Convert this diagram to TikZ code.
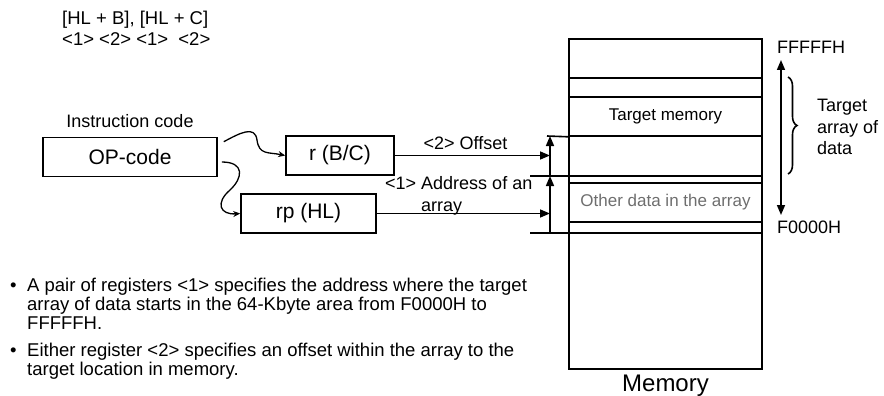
\documentclass[tikz,border=0pt]{standalone}
\usepackage{fontspec}
\setmainfont{Liberation Sans}
\usetikzlibrary{arrows.meta,calc,positioning,decorations.pathreplacing}
\definecolor{MemGray}{HTML}{6E6E6E}
\tikzset{
  mmbox/.style={draw, line width=1.6pt, minimum height=39pt, inner sep=0pt, font=\fontsize{21}{25}\selectfont},
  mmrow/.style={draw, line width=1.6pt, minimum width=193pt, minimum height=39pt, inner sep=0pt, font=\fontsize{17}{20}\selectfont},
  mmline/.style={line width=1.6pt},
  mmarrow/.style={-{Triangle[length=10pt,width=8pt]}, line width=1.6pt},
  mmcurve/.style={-{Stealth[length=7pt,width=6pt]}, line width=1.3pt},
  mmlabel/.style={inner sep=0pt, align=left, font=\fontsize{18}{21.5}\selectfont}
}
\begin{document}
\begin{tikzpicture}[x=1pt,y=-1pt]
  \useasboundingbox (0,0) rectangle (884,396);
  % addressing form
  \node[mmlabel, anchor=north west, font=\fontsize{18.5}{21}\selectfont] (form) at (62,11) {[HL + B], [HL + C]\\<1> <2> <1>\ \ <2>};
  % instruction and registers
  \node[mmbox, minimum width=174pt] (op) at (130,157) {OP-code};
  \node[mmlabel, above=8.5pt of op] (instr) {Instruction code};
  \node[mmbox, minimum width=108pt] (rbc) at (340,155.5) {r (B/C)};
  \node[mmbox, minimum width=135pt] (rp) at (308.5,213.5) {rp (HL)};
  \draw[mmcurve] (op.north east) ++(6,5) coordinate (c1)
    .. controls (240,133) and (255,125) .. (257,140)
    .. controls (259,155) and (268,152) .. (rbc.west);
  \draw[mmcurve] (op.east) ++(4,5) coordinate (c2)
    .. controls (245,162) and (243,178) .. (230,190)
    .. controls (215,203) and (220,215) .. (rp.west);
  % memory
  \node[draw, line width=1.6pt, minimum width=193pt, minimum height=330pt, inner sep=0pt] (mem) at (665.5,204) {};
  \node[mmlabel, below=5pt of mem, font=\fontsize{24}{28}\selectfont] (memname) {Memory};
  \node[mmrow] (tgt) at (665.5,116.5) {Target memory};
  \node[mmrow, text=MemGray] (oth) at (665.5,202.5) {Other data in the array};
  \draw[mmline] (569,78) -- (762,78);
  \draw[mmline] (530,176) -- (762,176);
  \draw[mmline] (530,233) -- (762,233);
  \draw[mmline] (547,136) -- (tgt.south west);
  % address and offset
  \coordinate (abase) at (550,233);
  \coordinate (amid) at (550,176);
  \coordinate (atop) at (550,136);
  \draw[mmarrow] (abase) -- (amid);
  \draw[mmarrow] (amid) -- (atop);
  \draw[mmarrow] (rbc.east) -- (rbc.east -| abase);
  \draw[mmarrow] (rp.east) -- (rp.east -| abase);
  \node[mmlabel] (offs) at (465.5,143.5) {<2> Offset};
  \node[mmlabel, anchor=north west, font=\fontsize{18}{22}\selectfont] (addr) at (385,176) {<1> Address of an\\\hphantom{<1> }array};
  % address range
  \node[mmlabel, anchor=west] (hiaddr) at (777,47.5) {FFFFFH};
  \node[mmlabel, anchor=west] (loaddr) at (777,227) {F0000H};
  \coordinate (hi) at (781,60);
  \coordinate (lo) at (781,215);
  \draw[mmarrow, {Triangle[length=10pt,width=8pt]}-{Triangle[length=10pt,width=8pt]}] (hi) -- (lo);
  \draw[mmline, decorate, decoration={brace, amplitude=9pt}] (788,77) -- (788,174);
  \node[mmlabel, anchor=north west] (arr) at (817,99) {Target\\array of\\data};
  % notes
  \node[inner sep=0pt, anchor=north west, align=left, font=\fontsize{18.5}{18.7}\selectfont] (notes) at (10,278)
    {\makebox[17pt][l]{\hspace{0pt}\textbullet}A pair of registers <1> specifies the address where the target\\
     \hspace*{17pt}array of data starts in the 64-Kbyte area from F0000H to\\
     \hspace*{17pt}FFFFFH.\\[9pt]
     \makebox[17pt][l]{\hspace{0pt}\textbullet}Either register <2> specifies an offset within the array to the\\
     \hspace*{17pt}target location in memory.};
\end{tikzpicture}
\end{document}
